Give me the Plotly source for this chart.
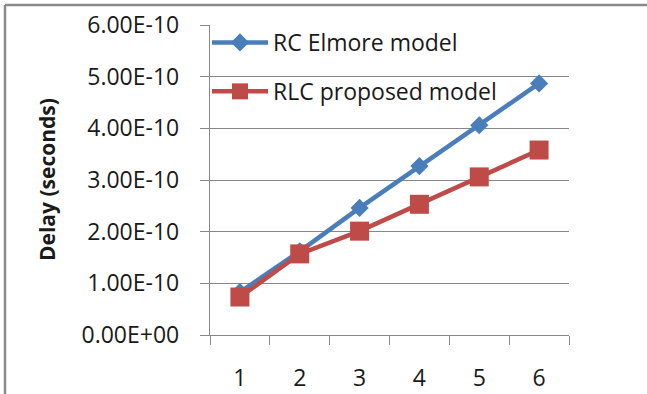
import plotly.graph_objects as go

# ---- data ----
categories = ["1", "2", "3", "4", "5", "6"]
rc_elmore = [0.83e-10, 1.62e-10, 2.46e-10, 3.27e-10, 4.06e-10, 4.87e-10]
rlc_proposed = [0.735e-10, 1.57e-10, 2.01e-10, 2.53e-10, 3.06e-10, 3.58e-10]
y_tick_vals = [0, 1e-10, 2e-10, 3e-10, 4e-10, 5e-10, 6e-10]
y_tick_text = ["0.00E+00", "1.00E-10", "2.00E-10", "3.00E-10", "4.00E-10", "5.00E-10", "6.00E-10"]

BLUE = "#4A7EBB"
RED = "#BE4B48"
GRID = "#878787"
FONT = "Open Sans, Noto Sans, sans-serif"

fig = go.Figure()
fig.add_trace(go.Scatter(
    x=categories, y=rc_elmore, mode="lines+markers", name="RC Elmore model",
    legendgroup="a",
    line=dict(color=BLUE, width=4.5),
    marker=dict(symbol="diamond", size=14, color=BLUE),
))
fig.add_trace(go.Scatter(
    x=categories, y=rlc_proposed, mode="lines+markers", name="RLC proposed model",
    legendgroup="b",
    line=dict(color=RED, width=4.5),
    marker=dict(symbol="square", size=19, color=RED),
))

L, R, T, B = 210, 78, 25, 59
W, H = 647, 394
pw, ph = W - L - R, H - T - B

def px(x):
    return (x - L) / pw

def py(y):
    return (H - B - y) / ph

fig.update_layout(
    width=W, height=H, autosize=False,
    margin=dict(l=L, r=R, t=T, b=B, pad=0, autoexpand=False),
    paper_bgcolor="white", plot_bgcolor="white",
    font=dict(family=FONT, color="#1a1a1a", size=23),
    showlegend=True,
    legend=dict(
        x=px(207), y=1 - 21 / H, xref="paper", yref="container",
        xanchor="left", yanchor="top",
        bgcolor="rgba(0,0,0,0)", borderwidth=0,
        font=dict(family=FONT, size=23, color="#1a1a1a"),
        tracegroupgap=16, itemwidth=56,
    ),
    xaxis=dict(
        type="category", range=[-0.5, 5.5], automargin=False,
        showgrid=False, showline=True, linecolor=GRID, linewidth=1.3,
        ticks="outside", ticklen=9, tickcolor=GRID, tickwidth=1.3,
        tickson="boundaries", ticklabelstandoff=22,
        tickfont=dict(family=FONT, size=23, color="#1a1a1a"),
        zeroline=False, fixedrange=True,
    ),
    yaxis=dict(
        range=[0, 6e-10], automargin=False,
        tickvals=y_tick_vals, ticktext=y_tick_text,
        showgrid=True, gridcolor=GRID, gridwidth=1.3,
        showline=True, linecolor=GRID, linewidth=1.3,
        ticks="outside", ticklen=9, tickcolor=GRID, tickwidth=1.3,
        ticklabelstandoff=16,
        tickfont=dict(family=FONT, size=23, color="#1a1a1a"),
        zeroline=False, fixedrange=True,
    ),
    annotations=[dict(
        text="<b>Delay (seconds)</b>", textangle=-90,
        xref="paper", yref="paper", x=px(47), y=0.5,
        xanchor="center", yanchor="middle", showarrow=False,
        font=dict(family=FONT, size=21, color="#1a1a1a"),
    )],
    shapes=[
        dict(type="line", xref="paper", yref="paper",
             x0=px(5), x1=px(660), y0=py(5), y1=py(5),
             line=dict(color="#8a8a8a", width=2.5)),
        dict(type="line", xref="paper", yref="paper",
             x0=px(5), x1=px(5), y0=py(5), y1=py(400),
             line=dict(color="#8a8a8a", width=2.5)),
    ],
)

fig.write_html(
    "out.html",
    config={"displayModeBar": False, "responsive": False},
    post_script="document.body.style.margin='0';",
)
